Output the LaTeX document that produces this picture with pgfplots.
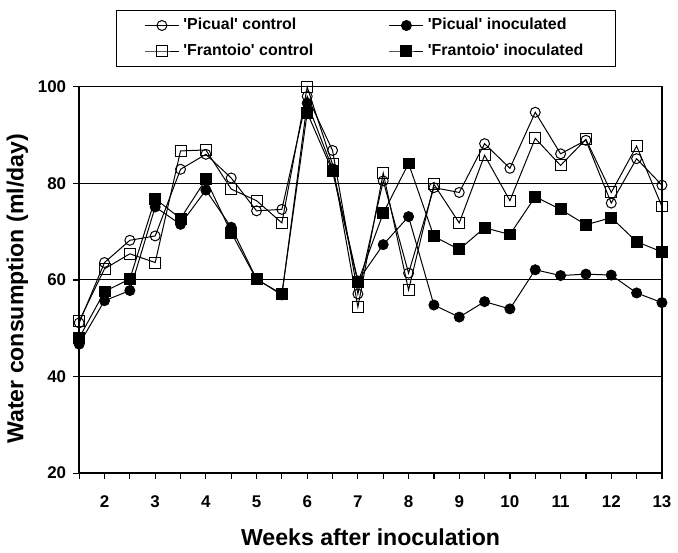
\documentclass[border=0pt]{standalone}
\usepackage{fontspec}
\setmainfont{Liberation Sans}
\usepackage{pgfplots}
\pgfplotsset{compat=1.18}
\newcommand{\q}{\textquotesingle}

\begin{document}
\begin{tikzpicture}
\begin{axis}[
  scale only axis,
  width=292.5pt, height=194pt,
  xmin=1.5, xmax=13, ymin=20, ymax=100,
  xtick={2,3,...,13},
  minor xtick={1.5,2.5,...,12.5},
  ytick={20,40,60,80,100},
  tick align=outside, tick pos=left,
  major tick length=3pt, minor tick length=3pt,
  every tick/.style={black, line width=0.6pt},
  ymajorgrids, grid style={black, line width=0.5pt},
  axis line style={line width=0.8pt},
  clip=false,
  /pgf/number format/assume math mode=true,
  tick label style={font=\fontsize{8.5}{10}\selectfont\bfseries},
  xticklabel style={yshift=-5pt},
  xlabel={Weeks after inoculation},
  ylabel={Water consumption (ml/day)},
  label style={font=\fontsize{11.6}{13}\selectfont\bfseries},
  xlabel style={at={(axis description cs:0.5,-0.165)}, anchor=center},
  ylabel style={at={(axis description cs:-0.106,0.477)}, anchor=center},
  legend columns=2,
  legend cell align=left,
  legend style={at={(0.492,1)}, anchor=south, yshift=10pt,
    font=\fontsize{8}{9.5}\selectfont\bfseries, draw=black, line width=0.5pt,
    inner xsep=14pt, inner ysep=2pt, row sep=1.5pt,
    /tikz/every even column/.append style={column sep=36pt}},
  every axis plot/.append style={black, line width=0.5pt},
]
\addplot[mark=o, mark size=2.5pt] coordinates {
(1.5,51.1) (2,63.6) (2.5,68.2) (3,69.1) (3.5,82.9) (4,86.0) (4.5,81.1) (5,74.3)
(5.5,74.6) (6,98.0) (6.5,86.8) (7,57.1) (7.5,80.5) (8,61.4) (8.5,79.1) (9,78.1)
(9.5,88.2) (10,83.1) (10.5,94.7) (11,86.1) (11.5,88.9) (12,75.9) (12.5,85.1) (13,79.6)};
\addlegendentry{\q Picual\q\ control}
\addplot[mark=*, mark size=2.5pt] coordinates {
(1.5,46.7) (2,55.7) (2.5,57.8) (3,75.1) (3.5,71.5) (4,78.6) (4.5,70.9) (5,60.2)
(5.5,56.9) (6,96.6) (6.5,83.0) (7,59.8) (7.5,67.3) (8,73.1) (8.5,54.8) (9,52.3)
(9.5,55.5) (10,54.0) (10.5,62.1) (11,60.9) (11.5,61.2) (12,61.0) (12.5,57.3) (13,55.3)};
\addlegendentry{\q Picual\q\ inoculated}
\addplot[mark=square, mark size=2.75pt] coordinates {
(1.5,51.5) (2,62.3) (2.5,65.4) (3,63.6) (3.5,86.7) (4,86.9) (4.5,78.8) (5,76.4)
(5.5,71.8) (6,99.9) (6.5,83.9) (7,54.4) (7.5,82.1) (8,57.9) (8.5,79.8) (9,71.8)
(9.5,85.8) (10,76.4) (10.5,89.3) (11,83.7) (11.5,89.1) (12,78.1) (12.5,87.7) (13,75.2)};
\addlegendentry{\q Frantoio\q\ control}
\addplot[mark=square*, mark size=2.75pt] coordinates {
(1.5,48.0) (2,57.6) (2.5,60.2) (3,76.8) (3.5,72.7) (4,80.8) (4.5,69.8) (5,60.1)
(5.5,57.1) (6,94.6) (6.5,82.5) (7,59.5) (7.5,73.8) (8,84.1) (8.5,69.0) (9,66.3)
(9.5,70.8) (10,69.4) (10.5,77.2) (11,74.6) (11.5,71.4) (12,72.9) (12.5,67.9) (13,65.8)};
\addlegendentry{\q Frantoio\q\ inoculated}
\coordinate (axtop) at (rel axis cs:0,1);
\end{axis}
\path (axtop) ++(0,43.5pt) coordinate (pagetop);
\draw[draw=none] (axtop) -- (pagetop);
\end{tikzpicture}
\end{document}
